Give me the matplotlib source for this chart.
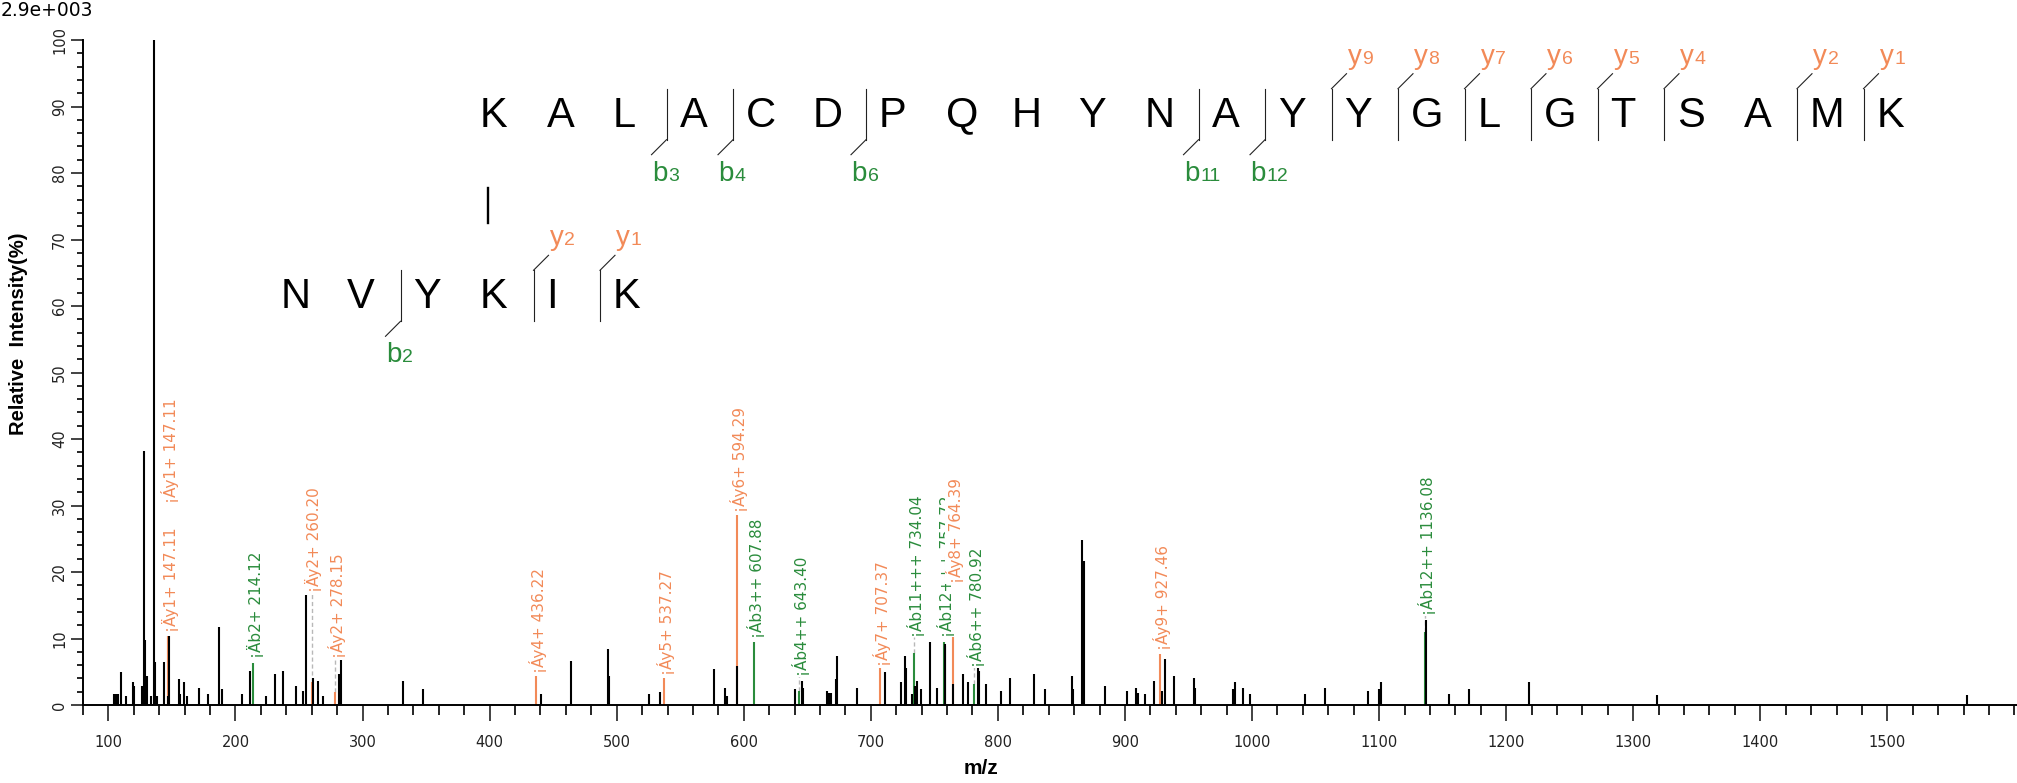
import matplotlib.pyplot as plt
from matplotlib.lines import Line2D
from matplotlib.transforms import offset_copy

plt.rcParams['font.family'] = ['DejaVu Sans']
plt.rcParams['mathtext.fontset'] = 'custom'

# unannotated peaks: m/z and relative intensity (%)
peak_mz = [104.1, 105.9, 107.2, 109.8, 113.7, 119.0, 120.3, 126.8, 128.2, 129.0,
           130.3, 133.2, 136.0, 136.8, 138.1, 143.8, 146.5, 147.6, 155.7, 156.5,
           159.1, 161.7, 171.4, 178.0, 187.1, 189.2, 204.9, 211.5, 224.4, 231.0,
           237.5, 248.0, 253.2, 255.8, 261.1, 265.0, 269.0, 281.8, 283.1, 332.0,
           347.7, 440.1, 464.2, 492.8, 494.0, 525.3, 534.4, 576.2, 585.5, 586.7,
           594.9, 640.3, 645.7, 646.6, 665.3, 666.8, 668.3, 672.2, 673.1, 689.1,
           711.0, 724.0, 726.7, 727.9, 732.1, 735.1, 736.3, 739.6, 746.3, 751.7,
           758.1, 758.6, 764.9, 772.8, 776.4, 784.2, 785.4, 790.5, 802.2, 809.5,
           828.8, 836.8, 858.0, 859.2, 866.1, 867.6, 884.5, 901.3, 908.9, 910.4,
           915.8, 922.7, 929.3, 931.7, 938.4, 954.0, 954.9, 985.0, 986.5, 992.8,
           998.3, 1041.3, 1057.3, 1091.3, 1100.3, 1101.5, 1136.6, 1155.1, 1170.7, 1218.0,
           1319.0, 1562.3]
peak_int = [1.6, 1.6, 1.6, 4.9, 1.35, 3.4, 2.9, 2.9, 38.2, 9.8,
            4.4, 1.35, 100.0, 6.4, 1.35, 6.4, 1.35, 10.4, 3.9, 1.6,
            3.4, 1.35, 2.6, 1.6, 11.8, 2.4, 1.6, 5.1, 1.35, 4.6,
            5.1, 2.9, 2.1, 16.5, 4.1, 3.6, 1.35, 4.6, 6.8, 3.6,
            2.4, 1.65, 6.6, 8.4, 4.4, 1.65, 1.9, 5.4, 2.6, 1.35,
            5.9, 2.4, 3.6, 2.6, 2.1, 1.85, 1.85, 3.9, 7.4, 2.6,
            4.9, 3.4, 7.4, 5.6, 1.6, 2.9, 3.6, 2.4, 9.4, 2.6,
            9.1, 8.9, 3.1, 4.6, 3.4, 5.6, 5.1, 3.1, 2.1, 4.1,
            4.6, 2.4, 4.4, 2.4, 24.8, 21.6, 2.9, 2.1, 2.6, 1.85,
            1.6, 3.6, 2.1, 6.9, 4.4, 4.1, 2.6, 2.4, 3.4, 2.6,
            1.6, 1.6, 2.6, 2.1, 2.4, 3.4, 12.8, 1.6, 2.4, 3.4,
            1.5, 1.5]

# annotated fragment ions
ann_mz = [147.11, 147.11, 214.12, 260.20, 278.15, 436.22, 537.27, 594.29, 607.88,
          643.40, 707.37, 734.04, 757.72, 764.39, 780.92, 927.46, 1136.08]
ann_int = [10.4, 10.4, 6.3, 3.5, 2.0, 4.4, 4.1, 28.6, 9.5,
           2.1, 5.6, 7.8, 9.5, 17.8, 3.1, 7.7, 11.0]
ann_label = ['¡Äy1+ 147.11', '¡Áy1+ 147.11', '¡Äb2+ 214.12', '¡Äy2+ 260.20',
             '¡Áy2+ 278.15', '¡Áy4+ 436.22', '¡Áy5+ 537.27', '¡Áy6+ 594.29',
             '¡Áb3++ 607.88', '¡Áb4++ 643.40', '¡Áy7+ 707.37', '¡Áb11+++ 734.04',
             '¡Áb12+++ 757.72', '¡Áy8+ 764.39', '¡Áb6++ 780.92', '¡Áy9+ 927.46',
             '¡Áb12++ 1136.08']

# peptide sequences and observed cleavages
seq_top = 'KALACDPQHYNAYYGLGTSAMK'
seq_bottom = 'NVYKIK'
b_top = [3, 4, 6, 11, 12]
y_top = [9, 8, 7, 6, 5, 4, 2, 1]
b_bottom = [2]
y_bottom = [2, 1]
link_top, link_bottom = 0, 3

xticks_major = list(range(100, 1600, 100))
yticks_major = list(range(0, 101, 10))

GREEN = '#2a8c3c'
ORANGE = '#f28a58'
W, H = 2017, 783

fig = plt.figure(figsize=(W / 100, H / 100), dpi=100)
ax = fig.add_axes([83 / W, 78 / H, (W - 83) / W, 665 / H])

# label heights (text base, % intensity), placed above crowding peaks
label_base = [11.0, 30.4, 7.0, 17.0, 7.0, 4.8, 4.5, 29.0, 10.0,
              4.3, 5.9, 10.3, 10.3, 18.3, 5.7, 8.3, 13.5]

ann_col = [GREEN if 'b' in t.split('+')[0] else ORANGE for t in ann_label]
ax.vlines(ann_mz, 0, ann_int, colors=ann_col, lw=1.5, zorder=2)
ax.vlines(peak_mz, 0, peak_int, colors='black', lw=1.5, zorder=3)

trans = offset_copy(ax.transData, fig=fig, x=2, y=0, units='dots')
seen = set()
for mz, h, base, txt, c in zip(ann_mz, ann_int, label_base, ann_label, ann_col):
    if base - h > 1 and mz not in seen:
        ax.vlines(mz, h, base, colors='#b8b8b8', linestyles=(0, (3, 2)), lw=1, zorder=1)
    seen.add(mz)
    ax.text(mz, base, txt, transform=trans, rotation=90, ha='center', va='bottom',
            fontsize=11, color=c, zorder=5,
            bbox=dict(facecolor='white', edgecolor='none', pad=0.3))

ax.set_xlim(80, 1602)
ax.set_ylim(0, 100)
for s in ['top', 'right']:
    ax.spines[s].set_visible(False)
for s in ['left', 'bottom']:
    ax.spines[s].set_linewidth(1.4)

ax.set_xticks(xticks_major)
ax.set_xticks(range(80, 1601, 20), minor=True)
ax.set_yticks(yticks_major)
ax.set_yticks(range(0, 101, 2), minor=True)
ax.tick_params(axis='x', which='major', length=11.5, width=1.2, labelsize=10.5, pad=10, colors='#222222')
ax.tick_params(axis='x', which='minor', length=7.5, width=1.2)
ax.tick_params(axis='y', which='major', length=8.5, width=1.2, labelsize=10.5, pad=3, labelrotation=90, colors='#222222')
ax.tick_params(axis='y', which='minor', length=4.5, width=1.2)
for lab in ax.get_yticklabels():
    lab.set_va('center')

fig.text(19 / W, 1 - 334 / H, 'Relative  Intensity(%)', rotation=90, ha='center', va='center',
         fontsize=14.5, fontweight='bold', family='Liberation Sans')
fig.text(981 / W, 1 - 768 / H, 'm/z', ha='center', va='center', fontsize=15,
         fontweight='bold', family='Liberation Sans')
fig.text(1 / W, 1 - 10.5 / H, '2.9e+003', ha='left', va='center', fontsize=13.5)


# sequence drawing in figure pixel coordinates
def fx(px):
    return px / W


def fy(py):
    return 1 - py / H


def seg(x0, y0, x1, y1, lw=0.8, c='#222222'):
    fig.add_artist(Line2D([fx(x0), fx(x1)], [fy(y0), fy(y1)], lw=lw, color=c,
                          transform=fig.transFigure))


step = 66.5
x0_top = 480
x0_bottom = x0_top - link_bottom * step + link_top * step


def draw_row(seq, x0, base, b_ions, y_ions):
    for i, ch in enumerate(seq):
        fig.text(fx(x0 + i * step), fy(base), ch, ha='left', va='baseline',
                 fontsize=30, family='Liberation Sans', color='black')
    top, bot = base - 38, base + 13
    for n in b_ions:
        d = x0 + n * step - 13
        seg(d, top, d, bot)
        seg(d, bot, d - 15, bot + 15)
        fig.text(fx(d + 1), fy(bot + 41), 'b', ha='right', va='baseline',
                 fontsize=20, color=GREEN, family='Liberation Sans')
        fig.text(fx(d + 1.5), fy(bot + 41), str(n), ha='left', va='baseline',
                 fontsize=14, color=GREEN, family='Liberation Sans')
    for n in y_ions:
        d = x0 + (len(seq) - n) * step - 13
        seg(d, top, d, bot)
        seg(d, top, d + 15, top - 15)
        fig.text(fx(d + 16), fy(top - 25), 'y', ha='left', va='baseline',
                 fontsize=20, color=ORANGE, family='Liberation Sans')
        fig.text(fx(d + 30.5), fy(top - 25), str(n), ha='left', va='baseline',
                 fontsize=14, color=ORANGE, family='Liberation Sans')


draw_row(seq_top, x0_top, 126.7, b_top, y_top)
draw_row(seq_bottom, x0_bottom, 308.3, b_bottom, y_bottom)

# cross-link between the two lysines
xl = x0_top + link_top * step + 8
seg(xl, 188, xl, 223, lw=1.7, c='black')

fig.savefig('out.png', dpi=100)
